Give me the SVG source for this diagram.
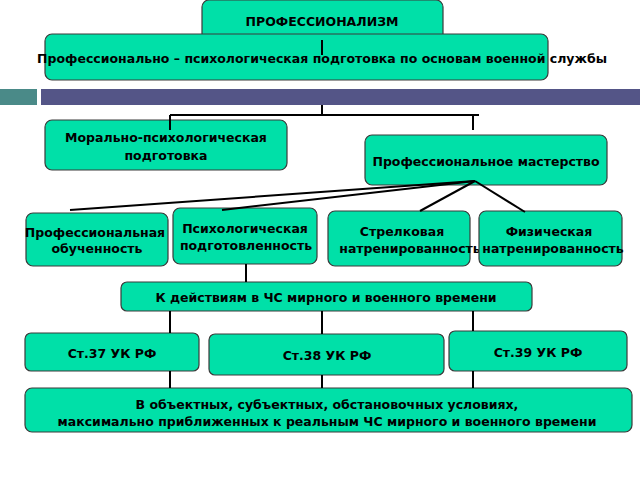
<svg xmlns="http://www.w3.org/2000/svg" width="640" height="480" viewBox="0 0 640 480">
<style>
.b{fill:#00e0a8;stroke:#3a3a3a;stroke-width:1.2}
text{font-family:"DejaVu Sans",sans-serif;font-weight:bold;font-size:12.5px;fill:#000;text-anchor:middle}
.c line{stroke:#000;stroke-width:2}
</style>
<rect width="640" height="480" fill="#fff"/>
<rect x="0" y="89" width="37" height="16" fill="#4a8a88"/>
<rect x="41" y="89" width="599" height="16" fill="#545587"/>
<g id="n1"><rect class="b" x="202" y="0" width="241" height="42" rx="7"/><text x="322" y="26">ПРОФЕССИОНАЛИЗМ</text></g>
<g id="n2"><rect class="b" x="45" y="34" width="503" height="46" rx="7"/><text x="322" y="63">Профессионально – психологическая подготовка по основам военной службы</text></g>
<g id="n3"><rect class="b" x="45" y="120" width="242" height="50" rx="7"/><text x="166" y="142">Морально-психологическая</text><text x="166" y="160">подготовка</text></g>
<g id="n4"><rect class="b" x="365" y="135" width="242" height="50" rx="7"/><text x="486" y="166">Профессиональное мастерство</text></g>
<g id="n5"><rect class="b" x="26" y="213" width="142" height="53" rx="7"/><text x="95" y="237">Профессиональная</text><text x="97" y="253">обученность</text></g>
<g id="n6"><rect class="b" x="173" y="208" width="144" height="56" rx="7"/><text x="245" y="233">Психологическая</text><text x="246" y="250">подготовленность</text></g>
<g id="n7"><rect class="b" x="328" y="211" width="142" height="55" rx="7"/><text x="402" y="236">Стрелковая</text><text x="410" y="253">натренированность</text></g>
<g id="n8"><rect class="b" x="479" y="211" width="143" height="55" rx="7"/><text x="549" y="236">Физическая</text><text x="553" y="253">натренированность</text></g>
<g id="n9"><rect class="b" x="121" y="282" width="411" height="29" rx="6"/><text x="326" y="302">К действиям в ЧС мирного и военного времени</text></g>
<g id="n10"><rect class="b" x="25" y="333" width="174" height="38" rx="6"/><text x="112" y="358">Ст.37 УК РФ</text></g>
<g id="n11"><rect class="b" x="209" y="334" width="235" height="41" rx="6"/><text x="327" y="360">Ст.38 УК РФ</text></g>
<g id="n12"><rect class="b" x="449" y="331" width="178" height="40" rx="6"/><text x="538" y="357">Ст.39 УК РФ</text></g>
<g id="n13"><rect class="b" x="25" y="388" width="607" height="44" rx="7"/><text x="327" y="409">В объектных, субъектных, обстановочных условиях,</text><text x="327" y="426">максимально приближенных к реальным ЧС мирного и военного времени</text></g>
<g class="c" id="connectors">
<line x1="322" y1="40" x2="322" y2="55"/>
<line x1="322" y1="105" x2="322" y2="116"/>
<line x1="170" y1="115" x2="479" y2="115"/>
<line x1="170" y1="115" x2="170" y2="130"/>
<line x1="473" y1="115" x2="473" y2="130"/>
<line x1="475" y1="181" x2="70" y2="210"/>
<line x1="475" y1="181" x2="222" y2="210"/>
<line x1="475" y1="181" x2="420" y2="211"/>
<line x1="475" y1="181" x2="525" y2="212"/>
<line x1="246" y1="264" x2="246" y2="282"/>
<line x1="170" y1="311" x2="170" y2="333"/>
<line x1="322" y1="311" x2="322" y2="334"/>
<line x1="473" y1="311" x2="473" y2="331"/>
<line x1="170" y1="371" x2="170" y2="388"/>
<line x1="322" y1="375" x2="322" y2="388"/>
<line x1="473" y1="371" x2="473" y2="388"/>
</g>
</svg>
